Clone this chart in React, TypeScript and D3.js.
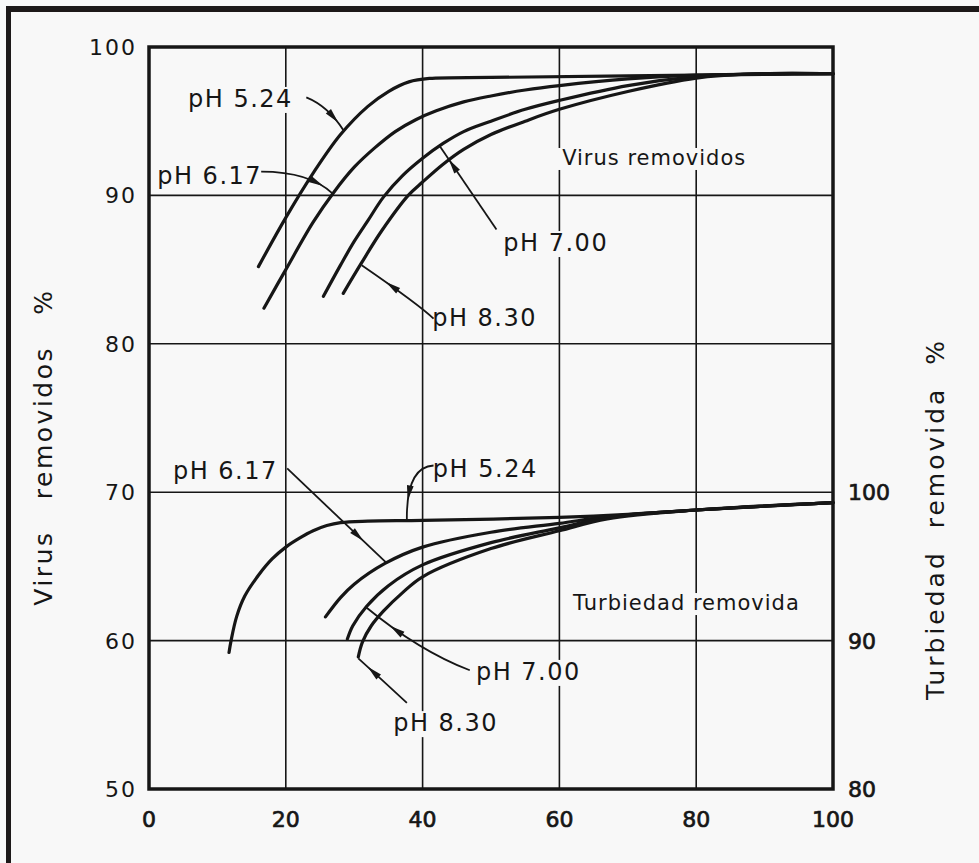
import React, { useLayoutEffect, useRef, useState } from "react";
import * as d3 from "d3";

type Pt = [number, number];

// Virus removal (%) vs x, left axis
const virusPH524: Pt[] = [[16, 85.2], [20, 88.5], [24, 91.5], [28, 94.1], [32, 96.0], [35, 97.0], [38, 97.65], [41, 97.88], [50, 97.95], [70, 98.05], [100, 98.2]];
const virusPH617: Pt[] = [[16.8, 82.4], [20, 85.0], [24, 88.2], [27, 90.2], [30, 91.9], [33, 93.2], [36, 94.3], [39, 95.1], [42, 95.7], [46, 96.3], [50, 96.7], [55, 97.1], [60, 97.4], [70, 97.85], [80, 98.1], [100, 98.2]];
const virusPH700: Pt[] = [[25.5, 83.2], [28, 85.3], [30, 86.9], [32, 88.3], [34.3, 89.9], [37, 91.3], [40, 92.5], [43, 93.5], [46, 94.3], [50, 95.0], [55, 95.8], [60, 96.4], [70, 97.4], [80, 98.0], [90, 98.2], [100, 98.2]];
const virusPH830: Pt[] = [[28.4, 83.4], [31, 85.4], [34, 87.6], [37.9, 90.0], [40, 90.9], [43, 92.1], [46, 93.1], [50, 94.1], [55, 95.0], [60, 95.8], [70, 97.0], [80, 97.9], [88, 98.18], [100, 98.2]];

// Turbidity removal (%) vs x, right axis
const turbPH524: Pt[] = [[11.7, 89.2], [12.0, 90.0], [12.8, 91.6], [14, 93.0], [16, 94.4], [18, 95.5], [20, 96.3], [22, 96.9], [24, 97.4], [26, 97.75], [28, 97.95], [32, 98.05], [40, 98.1], [60, 98.3], [70, 98.5], [80, 98.8], [100, 99.3]];
const turbPH617: Pt[] = [[25.8, 91.6], [28, 92.9], [30, 93.8], [34.5, 95.2], [40, 96.3], [50, 97.3], [60, 97.9], [67, 98.35], [80, 98.8], [100, 99.3]];
const turbPH700: Pt[] = [[29, 90.1], [29.8, 91.0], [31.8, 92.3], [35, 93.7], [40, 95.1], [50, 96.6], [60, 97.6], [67, 98.3], [80, 98.8], [100, 99.3]];
const turbPH830: Pt[] = [[30.6, 88.9], [31.2, 89.9], [32.5, 91.0], [34.3, 92.0], [37, 93.2], [40, 94.3], [50, 96.2], [60, 97.4], [67, 98.2], [80, 98.8], [100, 99.3]];

const xTicks = [0, 20, 40, 60, 80, 100];
const xTickLabels = ["0", "20", "40", "60", "80", "100"];
const yLeftTicks = [50, 60, 70, 80, 90, 100];
const yRightTicks = [80, 90, 100];
const xGrid = [20, 40, 60, 80];
const yGrid = [60, 70, 80, 90];

// Annotations: label text, label anchor (x, left-axis y), leader [start, control, end]
const virusLabels = ["pH 5.24", "pH 6.17", "pH 7.00", "pH 8.30"];
const virusLabelPos: Pt[] = [[5.7, 95.96], [1.2, 90.77], [51.8, 86.25], [41.4, 81.2]];
const virusLeaders: Pt[][] = [
  [[23.0, 96.6], [26.2, 96.0], [28.4, 94.4]],
  [[16.4, 91.6], [23.5, 91.6], [26.9, 90.1]],
  [[50.8, 87.7], [45.5, 91.3], [42.4, 93.4]],
  [[41.6, 81.7], [39.6, 82.6], [31.1, 85.3]],
];
const turbLabels = ["pH 6.17", "pH 5.24", "pH 7.00", "pH 8.30"];
const turbLabelPos: Pt[] = [[3.5, 70.89], [41.5, 71.0], [47.8, 57.35], [35.7, 53.9]];
const turbLeaders: Pt[][] = [
  [[20.2, 71.6], [27.5, 68.4], [34.8, 65.2]],
  [[41.6, 71.8], [37.6, 71.7], [37.7, 68.1]],
  [[46.9, 58.0], [39.5, 59.3], [31.6, 62.3]],
  [[37.7, 55.8], [34.2, 57.3], [30.6, 58.8]],
];
const seriesTitles = ["Virus removidos", "Turbiedad removida"];
const seriesTitlePos: Pt[] = [[60.4, 92.05], [62.0, 62.06]];
const yLeftTitle = "Virus   removidos   %";
const yRightTitle = "Turbiedad  removida  %";

const W = 979;
const H = 863;
const BG = "#f8f8f8";
const INK = "#161616";
const FONT = "'DejaVu Sans', sans-serif";

const x = d3.scaleLinear().domain([0, 100]).range([149, 833]);
const yV = d3.scaleLinear().domain([50, 100]).range([789, 47]);
const yT = d3.scaleLinear().domain([80, 130]).range([789, 47]);

const lineV = d3.line<Pt>().x((d) => x(d[0])).y((d) => yV(d[1])).curve(d3.curveCatmullRom.alpha(0.5));
const lineT = d3.line<Pt>().x((d) => x(d[0])).y((d) => yT(d[1])).curve(d3.curveCatmullRom.alpha(0.5));

function BgText(props: { tx: number; ty: number; text: string; size: number; ls?: number; pad?: number }) {
  const ref = useRef<SVGTextElement>(null);
  const [bb, setBb] = useState<{ x: number; y: number; w: number; h: number } | null>(null);
  useLayoutEffect(() => {
    if (ref.current) {
      const b = ref.current.getBBox();
      setBb({ x: b.x, y: b.y, w: b.width, h: b.height });
    }
  }, [props.text, props.tx, props.ty]);
  const pad = props.pad ?? 4;
  return (
    <g>
      {bb && <rect x={bb.x - pad} y={bb.y + 2} width={bb.w + pad * 2} height={bb.h - 2} fill={BG} />}
      <text ref={ref} x={props.tx} y={props.ty} fontSize={props.size} fontFamily={FONT} fill={INK}
        letterSpacing={props.ls ?? 0} style={{ whiteSpace: "pre" }}>
        {props.text}
      </text>
    </g>
  );
}

function Leader({ pts, ys }: { pts: Pt[]; ys: (v: number) => number }) {
  const p = pts.map((d) => [x(d[0]), ys(d[1])] as [number, number]);
  const path = d3.path();
  path.moveTo(p[0][0], p[0][1]);
  path.quadraticCurveTo(p[1][0], p[1][1], p[2][0], p[2][1]);
  const t = 0.72;
  const bx = (1 - t) * (1 - t) * p[0][0] + 2 * (1 - t) * t * p[1][0] + t * t * p[2][0];
  const by = (1 - t) * (1 - t) * p[0][1] + 2 * (1 - t) * t * p[1][1] + t * t * p[2][1];
  const dx = 2 * (1 - t) * (p[1][0] - p[0][0]) + 2 * t * (p[2][0] - p[1][0]);
  const dy = 2 * (1 - t) * (p[1][1] - p[0][1]) + 2 * t * (p[2][1] - p[1][1]);
  const ang = (Math.atan2(dy, dx) * 180) / Math.PI;
  return (
    <g>
      <path d={path.toString()} fill="none" stroke={INK} strokeWidth={1.8} />
      <path d="M6,0 L-9,-3.4 L-9,3.4 Z" fill={INK} transform={`translate(${bx},${by}) rotate(${ang})`} />
    </g>
  );
}

export default function App() {
  const left = x(0), right = x(100), top = yV(100), bottom = yV(50);
  return (
    <svg width={W} height={H} style={{ position: "absolute", left: 0, top: 0, background: BG }}>
      <rect x={0} y={0} width={W} height={H} fill={BG} />
      {/* frame */}
      <rect x={6} y={6} width={W - 6} height={6} fill="#1d1919" />
      <rect x={6} y={6} width={5} height={H - 6} fill="#1d1919" />

      {/* grid */}
      {xGrid.map((v) => (
        <line key={"gx" + v} x1={x(v)} x2={x(v)} y1={top} y2={bottom} stroke={INK} strokeWidth={1.6} />
      ))}
      {yGrid.map((v) => (
        <line key={"gy" + v} x1={left} x2={right} y1={yV(v)} y2={yV(v)} stroke={INK} strokeWidth={1.6} />
      ))}

      {/* labels with background gaps */}
      {virusLabels.map((s, i) => (
        <BgText key={"vl" + i} tx={x(virusLabelPos[i][0])} ty={yV(virusLabelPos[i][1])} text={s} size={24} ls={1.5} />
      ))}
      {turbLabels.map((s, i) => (
        <BgText key={"tl" + i} tx={x(turbLabelPos[i][0])} ty={yV(turbLabelPos[i][1])} text={s} size={24} ls={1.5} />
      ))}
      {seriesTitles.map((s, i) => (
        <BgText key={"st" + i} tx={x(seriesTitlePos[i][0])} ty={yV(seriesTitlePos[i][1])} text={s} size={21} ls={1} pad={8} />
      ))}

      {/* axes box */}
      <rect x={left} y={top} width={right - left} height={bottom - top} fill="none" stroke={INK} strokeWidth={3.5} />

      {/* curves */}
      {[virusPH524, virusPH617, virusPH700, virusPH830].map((s, i) => (
        <path key={"v" + i} d={lineV(s) || ""} fill="none" stroke={INK} strokeWidth={3.2} strokeLinecap="round" />
      ))}
      {[turbPH524, turbPH617, turbPH700, turbPH830].map((s, i) => (
        <path key={"t" + i} d={lineT(s) || ""} fill="none" stroke={INK} strokeWidth={3.2} strokeLinecap="round" />
      ))}

      {/* leaders */}
      {virusLeaders.map((p, i) => <Leader key={"vld" + i} pts={p} ys={yV} />)}
      {turbLeaders.map((p, i) => <Leader key={"tld" + i} pts={p} ys={yV} />)}

      {/* tick labels */}
      {xTicks.map((v, i) => (
        <text key={"xt" + v} x={x(v)} y={bottom + 38} textAnchor="middle" fontSize={22} fontFamily={FONT} fill={INK}
          stroke={INK} strokeWidth={0.7}>
          {xTickLabels[i]}
        </text>
      ))}
      {yLeftTicks.map((v) => (
        <text key={"yl" + v} x={left - 12} y={yV(v)} dy="0.36em" textAnchor="end" fontSize={22} fontFamily={FONT} fill={INK} letterSpacing={2}>
          {v}
        </text>
      ))}
      {yRightTicks.map((v) => (
        <text key={"yr" + v} x={right + 15} y={yT(v)} dy="0.36em" textAnchor="start" fontSize={22} fontFamily={FONT} fill={INK}
          stroke={INK} strokeWidth={0.7}>
          {v}
        </text>
      ))}

      {/* axis titles */}
      <text transform={`translate(43, ${(top + bottom) / 2 + 29}) rotate(-90)`} textAnchor="middle" dy="0.36em"
        fontSize={25} fontFamily={FONT} fill={INK} letterSpacing={2.5} style={{ whiteSpace: "pre" }}>
        {yLeftTitle}
      </text>
      <text transform={`translate(935, ${(top + bottom) / 2 + 101}) rotate(-90)`} textAnchor="middle" dy="0.36em"
        fontSize={25} fontFamily={FONT} fill={INK} letterSpacing={3} style={{ whiteSpace: "pre" }}>
        {yRightTitle}
      </text>
    </svg>
  );
}
